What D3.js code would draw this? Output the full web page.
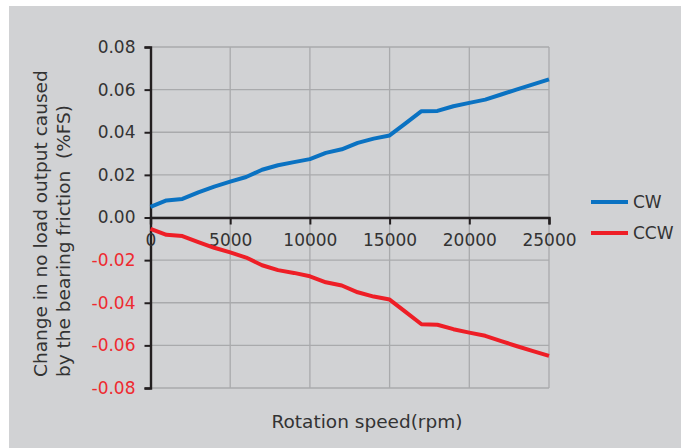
<!DOCTYPE html>
<html>
<head>
<meta charset="utf-8">
<script src="https://cdn.jsdelivr.net/npm/d3@7"></script>
<style>
  body { margin: 0; background: #fff; }
  text { font-family: "DejaVu Sans", Verdana, sans-serif; }
</style>
</head>
<body>
<script>
// data
var speeds = [0, 1000, 2000, 3000, 4000, 5000, 6000, 7000, 8000, 9000, 10000, 11000, 12000,
              13000, 14000, 15000, 16000, 17000, 18000, 19000, 20000, 21000, 22000, 23000, 24000, 25000]
var cw  = [0.0050, 0.0080, 0.0087, 0.0118, 0.0145, 0.0168, 0.0190, 0.0224, 0.0245, 0.0260, 0.0274, 0.0303, 0.0320,
           0.0350, 0.0370, 0.0385, 0.0442, 0.0499, 0.0500, 0.0522, 0.0538, 0.0553, 0.0577, 0.0601, 0.0625, 0.0648]
var ccw = [-0.0053, -0.0081, -0.0087, -0.0115, -0.0142, -0.0164, -0.0188, -0.0224, -0.0247, -0.0260, -0.0276, -0.0304, -0.0319,
           -0.0351, -0.0371, -0.0385, -0.0443, -0.0501, -0.0503, -0.0524, -0.0540, -0.0555, -0.0580, -0.0604, -0.0627, -0.0649]
var xTicks = [0, 5000, 10000, 15000, 20000, 25000]
var yTicks = [-0.08, -0.06, -0.04, -0.02, 0, 0.02, 0.04, 0.06, 0.08]
var seriesNames = ["CW", "CCW"]
var seriesColors = ["#0a72c2", "#ee1e26"]

var W = 681, H = 448
var svg = d3.select("body").append("svg").attr("width", W).attr("height", H)

svg.append("rect").attr("x", 9).attr("y", 6).attr("width", W - 9).attr("height", H - 6).attr("fill", "#d1d2d4")

var x = d3.scaleLinear().domain([0, 25000]).range([150.5, 549])
var y = d3.scaleLinear().domain([-0.08, 0.08]).range([388, 47])

// grid
svg.append("g").selectAll("line").data(yTicks).join("line")
  .attr("x1", x(0)).attr("x2", x(25000))
  .attr("y1", function(d){ return y(d) }).attr("y2", function(d){ return y(d) })
  .attr("stroke", "#a9aaac").attr("stroke-width", 1.3)
svg.append("g").selectAll("line").data(xTicks.slice(1)).join("line")
  .attr("x1", function(d){ return x(d) }).attr("x2", function(d){ return x(d) })
  .attr("y1", y(0.08)).attr("y2", y(-0.08))
  .attr("stroke", "#a9aaac").attr("stroke-width", 1.3)

// y axis
var yAxis = svg.append("g").attr("transform", "translate(" + x(0) + ",0)")
  .call(d3.axisLeft(y).tickValues(yTicks).tickSize(6).tickPadding(9).tickFormat(d3.format(".2f")))
yAxis.select(".domain").attr("stroke", "#231f20").attr("stroke-width", 2.4)
yAxis.selectAll(".tick line").attr("stroke", "#231f20").attr("stroke-width", 2)
yAxis.selectAll(".tick text")
  .attr("font-size", 17).attr("font-family", "DejaVu Sans")
  .attr("fill", function(d){ return d < 0 ? "#ee2a30" : "#333333" })
  .text(function(d){ return d < 0 ? "-" + d3.format(".2f")(-d) : d3.format(".2f")(d) })

// x axis at zero
var xAxis = svg.append("g").attr("transform", "translate(0," + y(0) + ")")
  .call(d3.axisBottom(x).tickValues(xTicks).tickSize(7).tickPadding(9).tickFormat(d3.format("d")))
xAxis.select(".domain").attr("stroke", "#231f20").attr("stroke-width", 2.4)
xAxis.selectAll(".tick line").attr("stroke", "#231f20").attr("stroke-width", 2)
xAxis.selectAll(".tick text").attr("font-size", 17).attr("font-family", "DejaVu Sans").attr("fill", "#333333")

// lines
var line = d3.line().x(function(d, i){ return x(speeds[i]) }).y(function(d){ return y(d) })
;[cw, ccw].forEach(function(s, i) {
  svg.append("path").datum(s).attr("d", line)
    .attr("fill", "none").attr("stroke", seriesColors[i]).attr("stroke-width", 4)
    .attr("stroke-linejoin", "round")
})

// legend
seriesNames.forEach(function(n, i) {
  var ly = 202 + i * 31
  svg.append("line").attr("x1", 591).attr("x2", 628).attr("y1", ly).attr("y2", ly)
    .attr("stroke", seriesColors[i]).attr("stroke-width", 4)
  svg.append("text").attr("x", 633).attr("y", ly + 6).attr("font-size", 17).attr("fill", "#333333").text(n)
})

// titles
svg.append("text").attr("x", 367).attr("y", 428).attr("text-anchor", "middle")
  .attr("font-size", 18.5).attr("fill", "#333333").text("Rotation speed(rpm)")
var yt = svg.append("text").attr("transform", "translate(47,377) rotate(-90)")
  .attr("font-size", 18.5).attr("fill", "#333333").style("white-space", "pre")
yt.append("tspan").attr("x", 0).attr("y", 0).text("Change in no load output caused")
yt.append("tspan").attr("x", 0).attr("y", 22.5).text("by the bearing friction  (%FS)")
</script>
</body>
</html>
